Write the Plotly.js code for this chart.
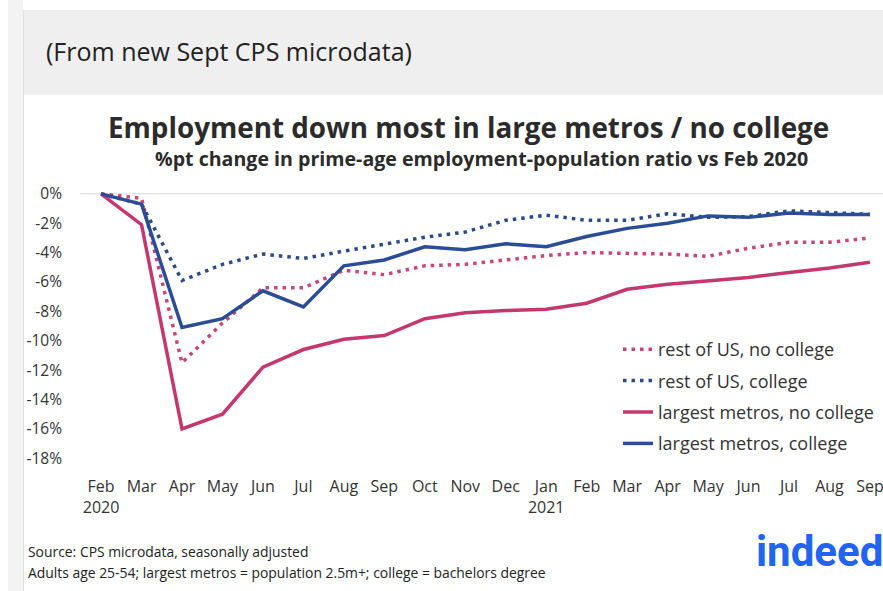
<!DOCTYPE html>
<html>
<head>
<meta charset="utf-8">
<script src="https://cdn.plot.ly/plotly-3.0.1.min.js"></script>
<style>
html,body{margin:0;padding:0;background:#fff;}
#chart{width:883px;height:591px;}
</style>
</head>
<body>
<div id="chart"></div>
<script>
// ---- data ----
const monthLabels = ["Feb<br>2020","Mar","Apr","May","Jun","Jul","Aug","Sep","Oct","Nov","Dec","Jan<br>2021","Feb","Mar","Apr","May","Jun","Jul","Aug","Sep"];
const monthIndex = [0,1,2,3,4,5,6,7,8,9,10,11,12,13,14,15,16,17,18,19];

const restNoCollege   = [0,-0.3,-11.5,-8.8,-6.4,-6.4,-5.2,-5.5,-4.9,-4.8,-4.5,-4.2,-4.0,-4.05,-4.1,-4.25,-3.7,-3.3,-3.3,-3.0];
const restCollege     = [0,-0.7,-5.9,-4.8,-4.1,-4.4,-3.9,-3.4,-2.95,-2.6,-1.8,-1.45,-1.8,-1.8,-1.35,-1.6,-1.55,-1.15,-1.3,-1.4];
const largeNoCollege  = [0,-2.1,-16.0,-15.0,-11.8,-10.6,-9.9,-9.65,-8.5,-8.1,-7.95,-7.85,-7.45,-6.5,-6.15,-5.9,-5.7,-5.35,-5.05,-4.65];
const largeCollege    = [0,-0.7,-9.1,-8.5,-6.6,-7.7,-4.9,-4.5,-3.6,-3.8,-3.4,-3.6,-2.9,-2.35,-2.0,-1.5,-1.6,-1.3,-1.4,-1.4];

const seriesNames = ["rest of US, no college","rest of US, college","largest metros, no college","largest metros, college"];
const yTickVals   = [0,-2,-4,-6,-8,-10,-12,-14,-16,-18];
const yTickLabels = ["0%","-2%","-4%","-6%","-8%","-10%","-12%","-14%","-16%","-18%"];

// ---- styling ----
const PINK = "#c4376f", BLUE = "#2a4d96";
const L = 95, T = 188, W = 781, H = 279;
const px = x => (x - L) / W;
const py = y => (T + H - y) / H;

const mk = (y, name, color, dash, width, g) => ({
  x: monthIndex, y: y, name: name, type: "scatter", mode: "lines",
  line: {color: color, width: width, dash: dash},
  legendgroup: g, hoverinfo: "skip"
});

const traces = [
  mk(restNoCollege, seriesNames[0], "#c9457b", "3.5px,5px", 3.5, "a"),
  mk(restCollege, seriesNames[1], "#2b4a88", "3.5px,5px", 3.5, "b"),
  mk(largeNoCollege, seriesNames[2], PINK, "solid", 3.5, "c"),
  mk(largeCollege, seriesNames[3], BLUE, "solid", 3.5, "d")
];

const layout = {
  width: 883, height: 591,
  margin: {l: L, r: 883 - L - W, t: T, b: 591 - T - H, autoexpand: false},
  paper_bgcolor: "#ffffff", plot_bgcolor: "rgba(0,0,0,0)",
  font: {family: "Open Sans, sans-serif", color: "#333333"},
  showlegend: true,
  legend: {
    x: px(618), y: py(331), xanchor: "left", yanchor: "top",
    bgcolor: "rgba(0,0,0,0)", font: {size: 18, color: "#333"},
    tracegroupgap: 5, itemwidth: 30
  },
  xaxis: {
    range: [-0.15, 19.15], tickvals: monthIndex, ticktext: monthLabels,
    showgrid: false, zeroline: false, showline: false, automargin: false,
    ticks: "", tickfont: {size: 16, color: "#333"}, ticklabelstandoff: 8,
    ticklabeloverflow: "allow", fixedrange: true
  },
  yaxis: {
    range: [-18.6, 0.4], tickvals: yTickVals, ticktext: yTickLabels,
    showgrid: false, zeroline: false, showline: false, automargin: false,
    ticks: "", tickfont: {size: 15.5, color: "#333"}, ticklabelstandoff: 32,
    fixedrange: true
  },
  shapes: [
    {type: "rect", xref: "paper", yref: "paper", x0: px(8), x1: px(23), y0: py(591), y1: py(0),
     fillcolor: "#f3f3f3", line: {width: 0}, layer: "below"},
    {type: "line", xref: "paper", yref: "paper", x0: px(23.5), x1: px(23.5), y0: py(591), y1: py(10),
     line: {color: "#e2e2e2", width: 1}, layer: "below"},
    {type: "rect", xref: "paper", yref: "paper", x0: px(24), x1: px(884), y0: py(95), y1: py(10),
     fillcolor: "#efefef", line: {width: 0}, layer: "below"},
    {type: "line", xref: "paper", yref: "y", x0: px(80), x1: px(883), y0: 0, y1: 0,
     line: {color: "#e6e6e6", width: 1.5}, layer: "below"}
  ],
  annotations: [
    {text: "(From new Sept CPS microdata)", xref: "paper", yref: "paper", x: px(44), y: py(51),
     xanchor: "left", yanchor: "middle", showarrow: false,
     font: {size: 25, color: "#222", family: "Open Sans, sans-serif"}},
    {text: "<b>Employment down most in large metros / no college</b>", xref: "paper", yref: "paper",
     x: px(468), y: py(127), xanchor: "center", yanchor: "middle", showarrow: false,
     font: {size: 27.8, color: "#2b2b2b", family: "Open Sans, sans-serif"}},
    {text: "<b>%pt change in prime-age employment-population ratio vs Feb 2020</b>", xref: "paper", yref: "paper",
     x: px(481), y: py(158), xanchor: "center", yanchor: "middle", showarrow: false,
     font: {size: 19.6, color: "#2b2b2b", family: "Open Sans, sans-serif"}},
    {text: "Source: CPS microdata, seasonally adjusted", xref: "paper", yref: "paper",
     x: px(26), y: py(551), xanchor: "left", yanchor: "middle", showarrow: false,
     font: {size: 13.9, color: "#222", family: "Open Sans, sans-serif"}},
    {text: "Adults age 25-54; largest metros = population 2.5m+; college = bachelors degree", xref: "paper", yref: "paper",
     x: px(26), y: py(572), xanchor: "left", yanchor: "middle", showarrow: false,
     font: {size: 13.9, color: "#222", family: "Open Sans, sans-serif"}},
    {text: "<b>indeed</b>", xref: "paper", yref: "paper",
     x: px(885), y: py(551), xanchor: "right", yanchor: "middle", showarrow: false,
     font: {size: 42, color: "#2164f3", family: "Roboto, sans-serif"}}
  ]
};

Plotly.newPlot("chart", traces, layout, {displayModeBar: false, staticPlot: true});
</script>
</body>
</html>
